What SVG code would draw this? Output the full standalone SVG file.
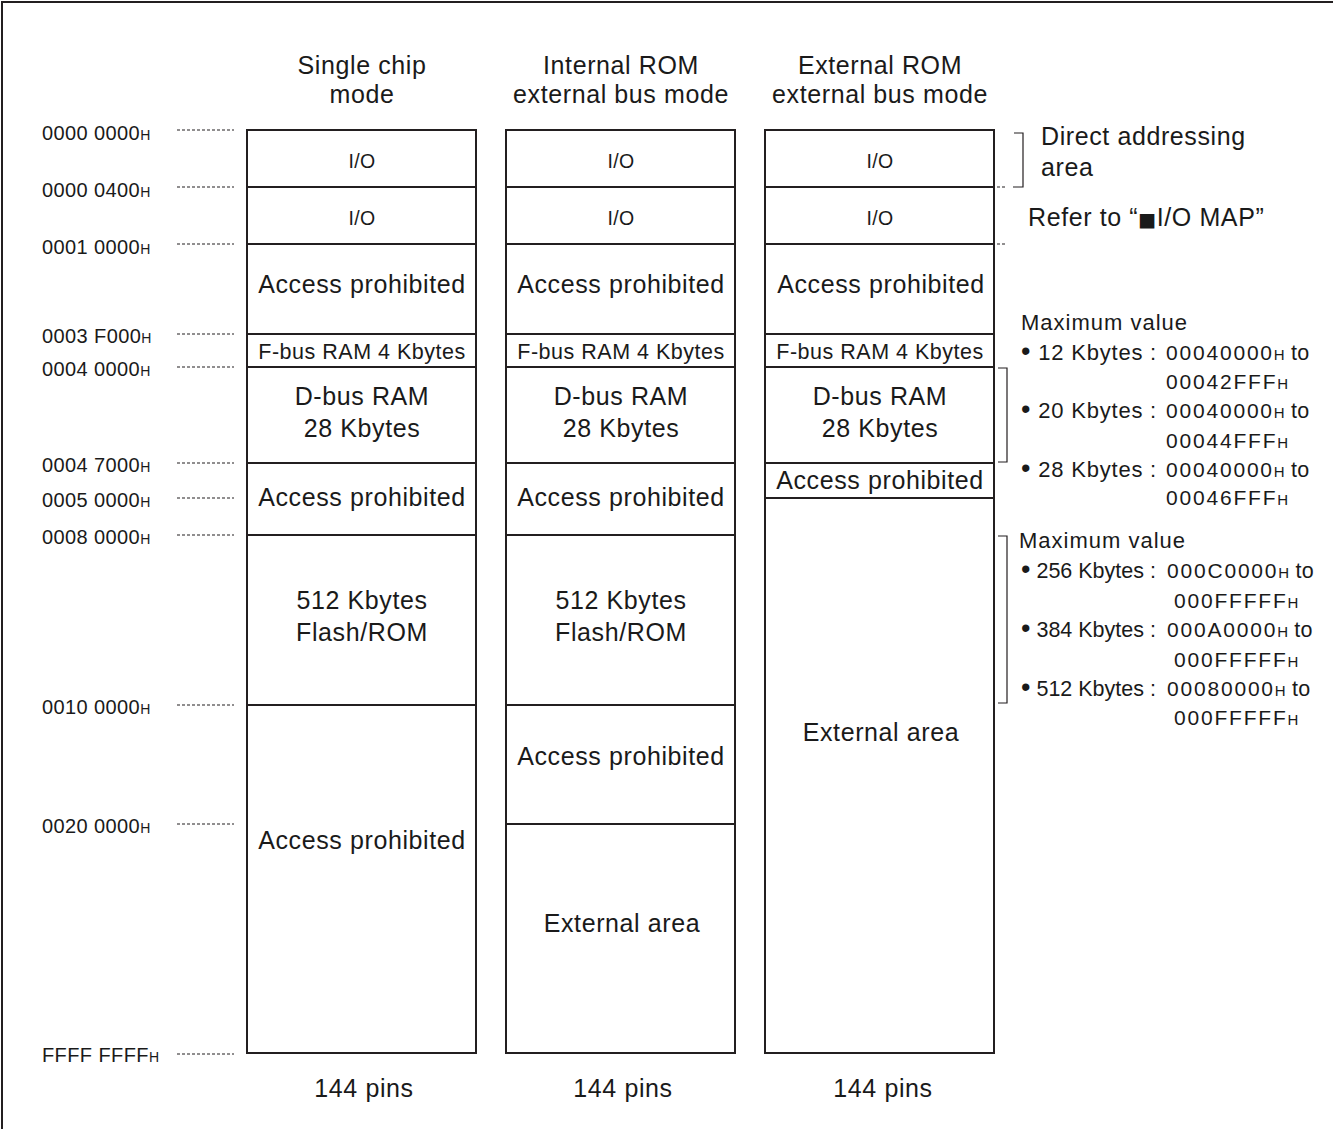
<svg xmlns="http://www.w3.org/2000/svg" width="1333" height="1129" viewBox="0 0 1333 1129">
<style>
  .cell { fill: #ffffff; stroke: #231f20; stroke-width: 2; }
  text { font-family: "Liberation Sans", Arial, sans-serif; fill: #1a1a1a; }
  .big { font-size: 25px; letter-spacing: 0.6px; text-anchor: middle; }
  .io { font-size: 19.5px; letter-spacing: 0.3px; text-anchor: middle; }
  .fb { font-size: 21.5px; letter-spacing: 0.5px; text-anchor: middle; }
  .addr { font-size: 20px; letter-spacing: 0.4px; }
  .sub { font-size: 14px; letter-spacing: 0; }
  .note { font-size: 25px; letter-spacing: 0.6px; }
  .mv { font-size: 22px; letter-spacing: 1px; }
  .annU { font-size: 22px; letter-spacing: 0.8px; }
  .annL { font-size: 21.5px; letter-spacing: 0; }
  .bul { font-size: 27px; }
  .annA { font-size: 21px; letter-spacing: 1.8px; }
  .annsub { font-size: 15px; letter-spacing: 0; }
  .to { font-size: 21.5px; letter-spacing: 0.3px; }
  .sq { font-family: "DejaVu Sans", sans-serif; font-size: 19px; }
  .lead { stroke: #231f20; stroke-width: 1.2; stroke-dasharray: 3 2; fill: none; }
  .brk { stroke: #231f20; stroke-width: 1.2; fill: none; }
</style>

<!-- outer frame -->
<path d="M2,1129 V2 H1333" fill="none" stroke="#231f20" stroke-width="2"/>

<!-- column headers -->
<g id="header-single">
  <text class="big" x="362" y="74">Single chip</text>
  <text class="big" x="362" y="103">mode</text>
</g>
<g id="header-introm">
  <text class="big" x="621" y="74">Internal ROM</text>
  <text class="big" x="621" y="103">external bus mode</text>
</g>
<g id="header-extrom">
  <text class="big" x="880" y="74">External ROM</text>
  <text class="big" x="880" y="103">external bus mode</text>
</g>

<!-- address labels -->
<g id="addresses">
  <text class="addr" x="42" y="140">0000 0000<tspan class="sub">H</tspan></text>
  <text class="addr" x="42" y="197">0000 0400<tspan class="sub">H</tspan></text>
  <text class="addr" x="42" y="254">0001 0000<tspan class="sub">H</tspan></text>
  <text class="addr" x="42" y="343">0003 F000<tspan class="sub">H</tspan></text>
  <text class="addr" x="42" y="376">0004 0000<tspan class="sub">H</tspan></text>
  <text class="addr" x="42" y="472">0004 7000<tspan class="sub">H</tspan></text>
  <text class="addr" x="42" y="507">0005 0000<tspan class="sub">H</tspan></text>
  <text class="addr" x="42" y="544">0008 0000<tspan class="sub">H</tspan></text>
  <text class="addr" x="42" y="714">0010 0000<tspan class="sub">H</tspan></text>
  <text class="addr" x="42" y="833">0020 0000<tspan class="sub">H</tspan></text>
  <text class="addr" x="42" y="1062">FFFF FFFF<tspan class="sub">H</tspan></text>
</g>

<!-- Column 1: Single chip mode -->
<g id="c1-io1"><rect class="cell" x="247" y="130" width="229" height="57"/><text class="io" x="362" y="168">I/O</text></g>
<g id="c1-io2"><rect class="cell" x="247" y="187" width="229" height="57"/><text class="io" x="362" y="225">I/O</text></g>
<g id="c1-ap1"><rect class="cell" x="247" y="244" width="229" height="90"/><text class="big" x="362" y="293">Access prohibited</text></g>
<g id="c1-fbus"><rect class="cell" x="247" y="334" width="229" height="33"/><text class="fb" x="362" y="359">F-bus RAM 4 Kbytes</text></g>
<g id="c1-dbus"><rect class="cell" x="247" y="367" width="229" height="96"/><text class="big" x="362" y="405">D-bus RAM</text><text class="big" x="362" y="437">28 Kbytes</text></g>
<g id="c1-ap2"><rect class="cell" x="247" y="463" width="229" height="72"/><text class="big" x="362" y="506">Access prohibited</text></g>
<g id="c1-flash"><rect class="cell" x="247" y="535" width="229" height="170"/><text class="big" x="362" y="609">512 Kbytes</text><text class="big" x="362" y="641">Flash/ROM</text></g>
<g id="c1-ap3"><rect class="cell" x="247" y="705" width="229" height="348"/><text class="big" x="362" y="849">Access prohibited</text></g>

<!-- Column 2: Internal ROM external bus mode -->
<g id="c2-io1"><rect class="cell" x="506" y="130" width="229" height="57"/><text class="io" x="621" y="168">I/O</text></g>
<g id="c2-io2"><rect class="cell" x="506" y="187" width="229" height="57"/><text class="io" x="621" y="225">I/O</text></g>
<g id="c2-ap1"><rect class="cell" x="506" y="244" width="229" height="90"/><text class="big" x="621" y="293">Access prohibited</text></g>
<g id="c2-fbus"><rect class="cell" x="506" y="334" width="229" height="33"/><text class="fb" x="621" y="359">F-bus RAM 4 Kbytes</text></g>
<g id="c2-dbus"><rect class="cell" x="506" y="367" width="229" height="96"/><text class="big" x="621" y="405">D-bus RAM</text><text class="big" x="621" y="437">28 Kbytes</text></g>
<g id="c2-ap2"><rect class="cell" x="506" y="463" width="229" height="72"/><text class="big" x="621" y="506">Access prohibited</text></g>
<g id="c2-flash"><rect class="cell" x="506" y="535" width="229" height="170"/><text class="big" x="621" y="609">512 Kbytes</text><text class="big" x="621" y="641">Flash/ROM</text></g>
<g id="c2-ap3"><rect class="cell" x="506" y="705" width="229" height="119"/><text class="big" x="621" y="765">Access prohibited</text></g>
<g id="c2-ext"><rect class="cell" x="506" y="824" width="229" height="229"/><text class="big" x="622" y="932">External area</text></g>

<!-- Column 3: External ROM external bus mode -->
<g id="c3-io1"><rect class="cell" x="765" y="130" width="229" height="57"/><text class="io" x="880" y="168">I/O</text></g>
<g id="c3-io2"><rect class="cell" x="765" y="187" width="229" height="57"/><text class="io" x="880" y="225">I/O</text></g>
<g id="c3-ap1"><rect class="cell" x="765" y="244" width="229" height="90"/><text class="big" x="881" y="293">Access prohibited</text></g>
<g id="c3-fbus"><rect class="cell" x="765" y="334" width="229" height="33"/><text class="fb" x="880" y="359">F-bus RAM 4 Kbytes</text></g>
<g id="c3-dbus"><rect class="cell" x="765" y="367" width="229" height="96"/><text class="big" x="880" y="405">D-bus RAM</text><text class="big" x="880" y="437">28 Kbytes</text></g>
<g id="c3-ap2"><rect class="cell" x="765" y="463" width="229" height="35"/><text class="big" x="880" y="489">Access prohibited</text></g>
<g id="c3-ext"><rect class="cell" x="765" y="498" width="229" height="555"/><text class="big" x="881" y="741">External area</text></g>

<!-- pin counts -->
<g id="pins">
  <text class="big" x="364" y="1097">144 pins</text>
  <text class="big" x="623" y="1097">144 pins</text>
  <text class="big" x="883" y="1097">144 pins</text>
</g>

<!-- connectors: leaders and brackets -->
<g id="connectors">
  <path class="lead" d="M177,130 H234 M177,187 H234 M177,244 H234 M177,334 H234 M177,367 H234 M177,463 H234 M177,498 H234 M177,535 H234 M177,705 H234 M177,824 H234 M177,1054 H234"/>
  <path class="lead" d="M997,187 H1007 M997,244 H1007"/>
  <path class="brk" d="M1014,133 H1023 V187 H1013"/>
  <path class="brk" d="M998,368 H1007 V462 H998"/>
  <path class="brk" d="M998,536 H1007 V703 H998"/>
</g>

<!-- annotations -->
<g id="note-direct">
  <text class="note" x="1041" y="145">Direct addressing</text>
  <text class="note" x="1041" y="176">area</text>
</g>
<g id="note-iomap">
  <text class="note" x="1028" y="226">Refer to “<tspan class="sq">■</tspan>I/O MAP”</text>
</g>
<g id="note-ram">
  <text class="mv" x="1021" y="330">Maximum value</text>
  <text class="annU" x="1021" y="360"><tspan class="bul">•</tspan> 12 Kbytes</text><text class="annU" x="1150" y="360">:</text>
  <text class="annA" x="1166" y="360">00040000<tspan class="annsub">H</tspan><tspan class="to"> to</tspan></text>
  <text class="annA" x="1166" y="389">00042FFF<tspan class="annsub">H</tspan></text>
  <text class="annU" x="1021" y="418"><tspan class="bul">•</tspan> 20 Kbytes</text><text class="annU" x="1150" y="418">:</text>
  <text class="annA" x="1166" y="418">00040000<tspan class="annsub">H</tspan><tspan class="to"> to</tspan></text>
  <text class="annA" x="1166" y="448">00044FFF<tspan class="annsub">H</tspan></text>
  <text class="annU" x="1021" y="477"><tspan class="bul">•</tspan> 28 Kbytes</text><text class="annU" x="1150" y="477">:</text>
  <text class="annA" x="1166" y="477">00040000<tspan class="annsub">H</tspan><tspan class="to"> to</tspan></text>
  <text class="annA" x="1166" y="505">00046FFF<tspan class="annsub">H</tspan></text>
</g>
<g id="note-rom">
  <text class="mv" x="1019" y="548">Maximum value</text>
  <text class="annL" x="1021" y="578"><tspan class="bul">•</tspan> 256 Kbytes</text><text class="annL" x="1150" y="578">:</text>
  <text class="annA" x="1167" y="578">000C0000<tspan class="annsub">H</tspan><tspan class="to"> to</tspan></text>
  <text class="annA" x="1174" y="608">000FFFFF<tspan class="annsub">H</tspan></text>
  <text class="annL" x="1021" y="637"><tspan class="bul">•</tspan> 384 Kbytes</text><text class="annL" x="1150" y="637">:</text>
  <text class="annA" x="1167" y="637">000A0000<tspan class="annsub">H</tspan><tspan class="to"> to</tspan></text>
  <text class="annA" x="1174" y="667">000FFFFF<tspan class="annsub">H</tspan></text>
  <text class="annL" x="1021" y="696"><tspan class="bul">•</tspan> 512 Kbytes</text><text class="annL" x="1150" y="696">:</text>
  <text class="annA" x="1167" y="696">00080000<tspan class="annsub">H</tspan><tspan class="to"> to</tspan></text>
  <text class="annA" x="1174" y="725">000FFFFF<tspan class="annsub">H</tspan></text>
</g>
</svg>
